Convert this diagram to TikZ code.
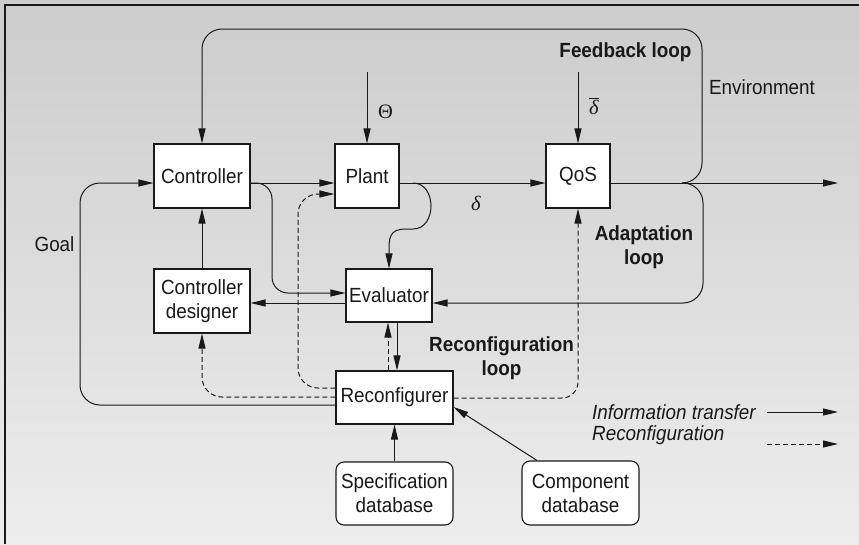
\documentclass[tikz,border=0pt]{standalone}
\usepackage{fontspec}
\setmainfont{Liberation Sans}[FakeStretch=0.92]
\newfontfamily\grk{Liberation Serif}
\usetikzlibrary{arrows.meta}
\definecolor{bgtop}{RGB}{204,204,204}
\definecolor{bgbot}{RGB}{237,237,237}
\definecolor{ink}{RGB}{25,25,25}
\begin{document}
\begin{tikzpicture}[x=1pt,y=-1pt,
  every node/.style={font=\fontsize{20.5}{24}\selectfont, text=ink},
  box/.style={draw=ink, line width=1.1pt, fill=white, inner sep=0pt, align=center},
  dbox/.style={box, rounded corners=8pt},
  ln/.style={draw=ink, line width=1pt},
  arr/.style={ln, -{Triangle[length=15pt,width=7pt]}},
  darr/.style={arr, dash pattern=on 5pt off 3pt},
  lbl/.style={font=\fontsize{20.5}{24}\selectfont\bfseries, align=center}]
\shade[top color=bgtop, bottom color=bgbot] (0,0) rectangle (859,544);
\useasboundingbox (0,0) rectangle (859,544);
\draw[ink, line width=1.3pt] (5,544) -- (5,5) -- (859,5);

% nodes
\node[box, minimum width=96, minimum height=64] (ctrl) at (202,176) {Controller};
\node[box, minimum width=64, minimum height=64] (plant) at (367,176) {Plant};
\node[box, minimum width=64, minimum height=64] (qos) at (578,176) {QoS};
\node[box, minimum width=96, minimum height=64] (des) at (202,301) {Controller\\designer};
\node[box, minimum width=86, minimum height=53] (eval) at (389,295.5) {Evaluator};
\node[box, minimum width=117, minimum height=53] (reconf) at (394.5,397.5) {Reconfigurer};
\node[dbox, minimum width=117, minimum height=63] (spec) at (394.5,493.5) {Specification\\database};
\node[dbox, minimum width=117, minimum height=64] (comp) at (580.5,493) {Component\\database};

\coordinate (thetain) at (367,72);
\coordinate (dbarin) at (578,72);
\coordinate (out) at (838,183);
\coordinate (split) at (682,183);

% connectors
\draw[arr, rounded corners=20] (reconf.west |- 0,405) -- (80,405) -- (80,183) -- (ctrl.west |- 0,183);
\draw[arr] (ctrl.east |- 0,183) -- (plant.west |- 0,183);
\draw[arr, rounded corners=16] (ctrl.east |- 0,183) -- (272,183) -- (272,293) -- (eval.west |- 0,293);
\draw[arr] (plant.east |- 0,183) -- (qos.west |- 0,183);
\draw[arr] (413,183) .. controls (437,183) and (437,229) .. (413,229) -- (406,229)
   .. controls (389,229) and (389,238) .. (389,252) -- (eval.north);
\draw[arr] (qos.east |- 0,183) -- (out);
\draw[arr, rounded corners=20] (split) -- (702,183) -- (702,29) -- (202,29) -- (ctrl.north);
\draw[arr, rounded corners=20] (split) -- (703,183) -- (703,303) -- (eval.east |- 0,303);
\draw[arr] (eval.west |- 0,303) -- (des.east |- 0,303);
\draw[arr] (des.north) -- (ctrl.south);
\draw[arr] (eval.south -| 397,0) -- (reconf.north -| 397,0);
\draw[darr] (reconf.north -| 388,0) -- (eval.south -| 388,0);
\draw[darr, rounded corners=20] (reconf.west |- 0,388) -- (298,388) -- (298,194) -- (plant.west |- 0,194);
\draw[darr, rounded corners=20] (reconf.west |- 0,397) -- (202,397) -- (des.south);
\draw[darr, rounded corners=16] (reconf.east |- 0,398) -- (578,398) -- (qos.south);
\draw[arr] (spec.north) -- (reconf.south);
\draw[arr] (comp.north -| 537,0) -- (reconf.east |- 0,407);
\draw[arr] (thetain) -- (plant.north);
\draw[arr] (dbarin) -- (qos.north);

% labels
\node[anchor=west, inner sep=0] (theta) at (378,112) {{\grk Θ}};
\node[anchor=west, inner sep=0] (dbar) at (589,106) {$\overline{\hbox{\grk\itshape δ}}$};
\node[inner sep=0] (delta) at (476,203) {{\grk\itshape δ}};
\node[inner sep=0] (goal) at (54.5,244) {Goal};
\node[lbl, inner sep=0] (fb) at (625.5,52) {Feedback loop};
\node[inner sep=0] (env) at (762,87) {Environment};
\node[lbl, inner sep=0] (adapt) at (644,247) {Adaptation\\loop};
\node[lbl, inner sep=0] (rcl) at (501.5,358) {Reconfiguration\\loop};

% legend
\node[anchor=west, inner sep=0, font=\fontsize{20.5}{24}\selectfont\itshape] (li) at (592,412) {Information transfer};
\node[anchor=west, inner sep=0, font=\fontsize{20.5}{24}\selectfont\itshape] (lr) at (592,435) {Reconfiguration};
\coordinate (l1a) at (767,412); \coordinate (l1b) at (838,412);
\coordinate (l2a) at (767,444); \coordinate (l2b) at (838,444);
\draw[arr] (l1a) -- (l1b);
\draw[darr] (l2a) -- (l2b);
\end{tikzpicture}
\end{document}
